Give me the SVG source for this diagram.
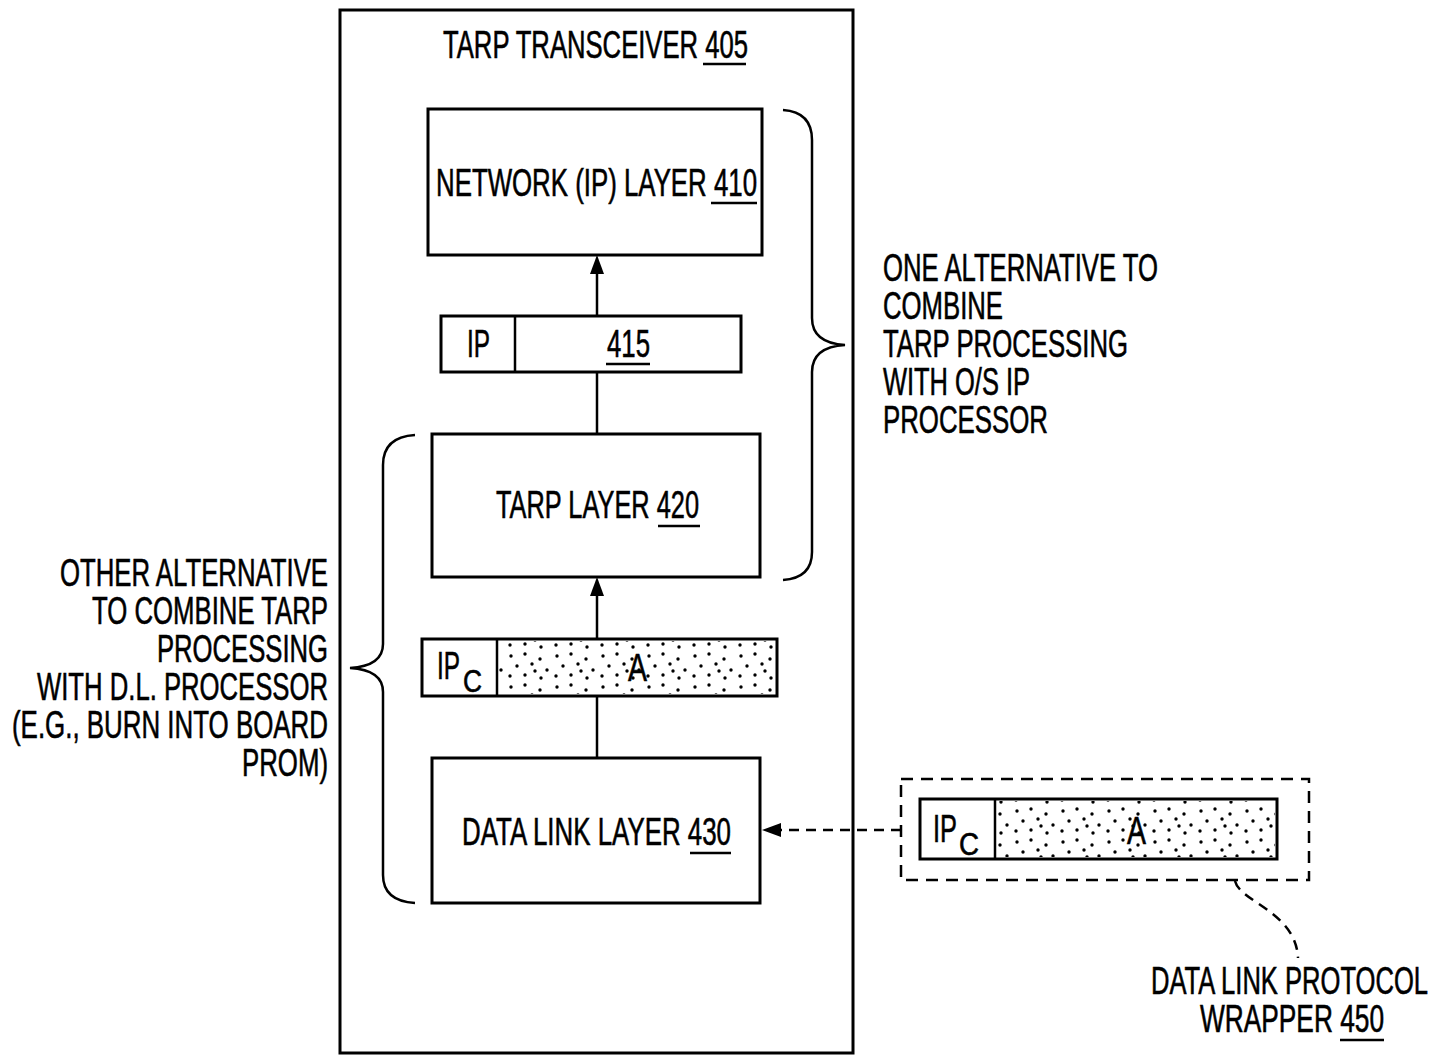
<svg xmlns="http://www.w3.org/2000/svg" width="1437" height="1056" viewBox="0 0 1437 1056">
<style>
text{font-family:"Liberation Sans",Arial,sans-serif;fill:#000;stroke:#000;stroke-width:0.6;}
.t{font-size:38px;}
.sub{font-size:32px;}
.box{fill:#fff;stroke:#000;stroke-width:3;}
.ln{stroke:#000;stroke-width:2.5;fill:none;}
.ul{stroke:#000;stroke-width:2.5;}
.dash{stroke:#000;stroke-width:2.5;fill:none;stroke-dasharray:12 8;}
.dash2{stroke:#000;stroke-width:2.5;fill:none;stroke-dasharray:10 7;}
.brace{stroke:#000;stroke-width:2.5;fill:none;}
.dots{fill:url(#stipple);stroke:none;}
</style>
<defs>
<pattern id="stipple" x="0" y="0" width="46" height="31" patternUnits="userSpaceOnUse">
<rect width="46" height="31" fill="#fff"/>
<g fill="#000">
<circle cx="5" cy="5" r="1.7"/><circle cx="19" cy="3" r="1.7"/><circle cx="34" cy="8" r="1.7"/>
<circle cx="11" cy="15" r="1.7"/><circle cx="26" cy="13" r="1.7"/><circle cx="41" cy="19" r="1.7"/>
<circle cx="4" cy="25" r="1.7"/><circle cx="19" cy="24" r="1.7"/><circle cx="35" cy="27" r="1.7"/>
<circle cx="29" cy="20" r="1.7"/>
</g>
</pattern>
</defs>

<g id="transceiver">
<rect x="340" y="10" width="513" height="1043" style="fill:none;stroke:#000;stroke-width:3"/>
<text class="t" x="443" y="58" textLength="305" lengthAdjust="spacingAndGlyphs">TARP TRANSCEIVER 405</text>
<line class="ul" x1="703" y1="64" x2="746" y2="64"/>
</g>

<g id="network-layer">
<rect x="428" y="109" width="334" height="146" class="box"/>
<text class="t" x="436" y="196" textLength="321" lengthAdjust="spacingAndGlyphs">NETWORK (IP) LAYER 410</text>
<line class="ul" x1="711" y1="203" x2="757" y2="203"/>
</g>

<g id="packet-415">
<rect x="441" y="316" width="300" height="56" class="box"/>
<line class="ln" x1="515" y1="316" x2="515" y2="372"/>
<text class="t" x="467" y="357" textLength="23" lengthAdjust="spacingAndGlyphs">IP</text>
<text class="t" x="607" y="357" textLength="43" lengthAdjust="spacingAndGlyphs">415</text>
<line class="ul" x1="606" y1="364" x2="650" y2="364"/>
</g>

<g id="tarp-layer">
<rect x="432" y="434" width="328" height="143" class="box"/>
<text class="t" x="496" y="518" textLength="203" lengthAdjust="spacingAndGlyphs">TARP LAYER 420</text>
<line class="ul" x1="658" y1="526" x2="700" y2="526"/>
</g>

<g id="packet-ipc">
<rect x="422" y="639" width="355" height="57" class="box"/>
<rect x="499" y="641" width="276" height="53" class="dots"/>
<line class="ln" x1="497" y1="639" x2="497" y2="696"/>
<text class="t" x="437" y="679"><tspan textLength="23" lengthAdjust="spacingAndGlyphs">IP</tspan><tspan class="sub" x="463" y="692" textLength="19" lengthAdjust="spacingAndGlyphs">C</tspan></text>
<text class="t" x="628" y="681" textLength="19" lengthAdjust="spacingAndGlyphs">A</text>
</g>

<g id="data-link-layer">
<rect x="432" y="758" width="328" height="145" class="box"/>
<text class="t" x="462" y="845" textLength="269" lengthAdjust="spacingAndGlyphs">DATA LINK LAYER 430</text>
<line class="ul" x1="690" y1="853" x2="731" y2="853"/>
</g>

<g id="wrapper-450">
<rect x="901" y="779" width="408" height="101" class="dash"/>
<rect x="920" y="799" width="357" height="60" class="box"/>
<rect x="997" y="801" width="278" height="56" class="dots"/>
<line class="ln" x1="995" y1="799" x2="995" y2="859"/>
<text class="t" x="933" y="842"><tspan textLength="24" lengthAdjust="spacingAndGlyphs">IP</tspan><tspan class="sub" x="959" y="855" textLength="20" lengthAdjust="spacingAndGlyphs">C</tspan></text>
<text class="t" x="1127" y="844" textLength="19" lengthAdjust="spacingAndGlyphs">A</text>
<text class="t" x="1151" y="994" textLength="277" lengthAdjust="spacingAndGlyphs">DATA LINK PROTOCOL</text>
<text class="t" x="1200" y="1032" textLength="184" lengthAdjust="spacingAndGlyphs">WRAPPER 450</text>
<line class="ul" x1="1340" y1="1040" x2="1384" y2="1040"/>
</g>

<g id="alt-ip-label">
<path class="brace" d="M 783 110 Q 812 112 812 140 L 812 318 Q 812 343 845 345 Q 812 347 812 372 L 812 552 Q 812 578 783 580"/>
<text class="t" x="883" y="281" textLength="275" lengthAdjust="spacingAndGlyphs">ONE ALTERNATIVE TO</text>
<text class="t" x="883" y="319" textLength="120" lengthAdjust="spacingAndGlyphs">COMBINE</text>
<text class="t" x="883" y="357" textLength="245" lengthAdjust="spacingAndGlyphs">TARP PROCESSING</text>
<text class="t" x="883" y="395" textLength="147" lengthAdjust="spacingAndGlyphs">WITH O/S IP</text>
<text class="t" x="883" y="433" textLength="165" lengthAdjust="spacingAndGlyphs">PROCESSOR</text>
</g>

<g id="alt-dl-label">
<path class="brace" d="M 415 435 Q 383 437 383 465 L 383 644 Q 383 666 350 668 Q 383 670 383 692 L 383 875 Q 383 901 415 903"/>
<text class="t" x="60" y="586" textLength="268" lengthAdjust="spacingAndGlyphs">OTHER ALTERNATIVE</text>
<text class="t" x="92" y="624" textLength="236" lengthAdjust="spacingAndGlyphs">TO COMBINE TARP</text>
<text class="t" x="157" y="662" textLength="171" lengthAdjust="spacingAndGlyphs">PROCESSING</text>
<text class="t" x="37" y="700" textLength="291" lengthAdjust="spacingAndGlyphs">WITH D.L. PROCESSOR</text>
<text class="t" x="12" y="738" textLength="316" lengthAdjust="spacingAndGlyphs">(E.G., BURN INTO BOARD</text>
<text class="t" x="242" y="776" textLength="86" lengthAdjust="spacingAndGlyphs">PROM)</text>
</g>

<g id="connectors">
<line class="ln" x1="597" y1="316" x2="597" y2="270"/>
<polygon points="597,255 590,274 604,274" fill="#000"/>
<line class="ln" x1="597" y1="434" x2="597" y2="372"/>
<line class="ln" x1="597" y1="639" x2="597" y2="592"/>
<polygon points="597,577 590,596 604,596" fill="#000"/>
<line class="ln" x1="597" y1="758" x2="597" y2="696"/>
<line class="dash2" x1="901" y1="830" x2="778" y2="830"/>
<polygon points="762,830 781,823 781,837" fill="#000"/>
<path class="dash2" d="M 1235 881 C 1240 902 1296 912 1298 958"/>
</g>
</svg>
